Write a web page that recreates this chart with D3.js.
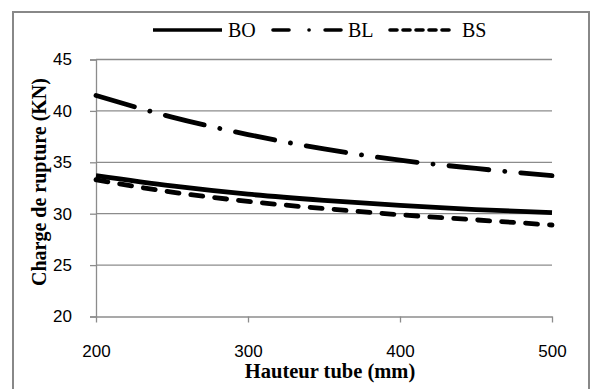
<!DOCTYPE html>
<html>
<head>
<meta charset="utf-8">
<script src="https://cdn.jsdelivr.net/npm/d3@7"></script>
<style>
  body { margin: 0; background: #fff; }
</style>
</head>
<body>
<div id="chart"></div>
<script>
// data
var hauteur = [200, 250, 300, 350, 400, 450, 500];
var BO = [33.7, 32.7, 31.9, 31.3, 30.8, 30.4, 30.1];
var BL = [41.5, 39.4, 37.7, 36.3, 35.2, 34.4, 33.7];
var BS = [33.3, 32.1, 31.2, 30.5, 29.9, 29.4, 28.9];
var xTicks = [200, 300, 400, 500];
var yTicks = [20, 25, 30, 35, 40, 45];
var seriesNames = ["BO", "BL", "BS"];

var chart = {
  width: 594,
  height: 389,
  top: 59.5,
  right: 42,
  bottom: 72.5,
  left: 96,
};

var styles = {
  BO: { dash: null, width: 4.8 },
  BL: { dash: "40,16,0.1,16", width: 4.8 },
  BS: { dash: "12,12", width: 4.8 },
};

var svg = d3
  .select("#chart")
  .append("svg")
  .attr("width", chart.width)
  .attr("height", chart.height);

/* outer frame */
svg
  .append("rect")
  .attr("x", 13)
  .attr("y", 12)
  .attr("width", 576)
  .attr("height", 400)
  .attr("fill", "#fff")
  .attr("stroke", "#888")
  .attr("stroke-width", 2);

var x = d3
  .scaleLinear()
  .domain([200, 500])
  .range([chart.left, chart.width - chart.right]);

var y = d3
  .scaleLinear()
  .domain([20, 45])
  .range([chart.height - chart.bottom, chart.top]);

/* gridlines */
svg
  .append("g")
  .selectAll("line")
  .data(yTicks.filter((d) => d > 20))
  .join("line")
  .attr("x1", x(200))
  .attr("x2", x(500))
  .attr("y1", (d) => y(d))
  .attr("y2", (d) => y(d))
  .attr("stroke", "#8c8c8c")
  .attr("stroke-width", 1.3);

/* y axis */
var yAxis = (g) =>
  g
    .attr("transform", `translate(${chart.left}, 0)`)
    .call(d3.axisLeft(y).tickValues(yTicks).tickSize(6).tickPadding(18))
    .call((g) => g.select(".domain").attr("stroke", "#8c8c8c").attr("stroke-width", 1.3))
    .call((g) => g.selectAll(".tick line").attr("stroke", "#8c8c8c").attr("stroke-width", 1.3))
    .call((g) =>
      g
        .selectAll(".tick text")
        .attr("fill", "#000")
        .style("font-family", "'Liberation Sans', Arial, sans-serif")
        .style("font-size", "17px")
    );

svg.append("g").call(yAxis);

/* x axis */
var xAxis = (g) =>
  g
    .attr("transform", `translate(0, ${chart.height - chart.bottom})`)
    .call(d3.axisBottom(x).tickValues(xTicks).tickSize(6).tickSizeOuter(0).tickPadding(22))
    .call((g) => g.select(".domain").attr("stroke", "#8c8c8c").attr("stroke-width", 1.3))
    .call((g) => g.selectAll(".tick line").attr("stroke", "#8c8c8c").attr("stroke-width", 1.3))
    .call((g) =>
      g
        .selectAll(".tick text")
        .attr("fill", "#000")
        .style("font-family", "'Liberation Sans', Arial, sans-serif")
        .style("font-size", "17px")
    );

svg.append("g").call(xAxis);

/* lines */
var data = { BO: BO, BL: BL, BS: BS };

var line = d3
  .line()
  .x((d, i) => x(hauteur[i]))
  .y((d) => y(d))
  .curve(d3.curveMonotoneX);

seriesNames.forEach((name) => {
  svg
    .append("path")
    .datum(data[name])
    .attr("fill", "none")
    .attr("stroke", "#000")
    .attr("stroke-width", styles[name].width)
    .attr("stroke-linecap", name === "BO" ? "butt" : "round")
    .attr("stroke-dasharray", styles[name].dash)
    .attr("d", line);
});

/* legend */
var legendY = 30;
var legend = [
  { name: "BO", x1: 153, x2: 222, tx: 228, dash: null },
  { name: "BL", x1: 273, x2: 341, tx: 348, dash: "16,20,0.1,16" },
  { name: "BS", x1: 390, x2: 450, tx: 462, dash: "7,6" },
];

legend.forEach((l) => {
  svg
    .append("line")
    .attr("x1", l.x1)
    .attr("x2", l.x2)
    .attr("y1", legendY)
    .attr("y2", legendY)
    .attr("stroke", "#000")
    .attr("stroke-width", 3.6)
    .attr("stroke-linecap", l.name === "BO" ? "butt" : "round")
    .attr("stroke-dasharray", l.dash);

  svg
    .append("text")
    .attr("x", l.tx)
    .attr("y", legendY + 7)
    .style("font-family", "'Liberation Serif', 'Times New Roman', serif")
    .style("font-size", "20px")
    .text(l.name);
});

/* axis titles */
svg
  .append("text")
  .attr("x", 330)
  .attr("y", 378)
  .attr("text-anchor", "middle")
  .style("font-family", "'Liberation Serif', 'Times New Roman', serif")
  .style("font-size", "20.5px")
  .style("font-weight", "bold")
  .text("Hauteur tube (mm)");

svg
  .append("text")
  .attr("transform", "translate(46, 182) rotate(-90)")
  .attr("text-anchor", "middle")
  .style("font-family", "'Liberation Serif', 'Times New Roman', serif")
  .style("font-size", "20px")
  .style("font-weight", "bold")
  .text("Charge de rupture (KN)");
</script>
</body>
</html>
